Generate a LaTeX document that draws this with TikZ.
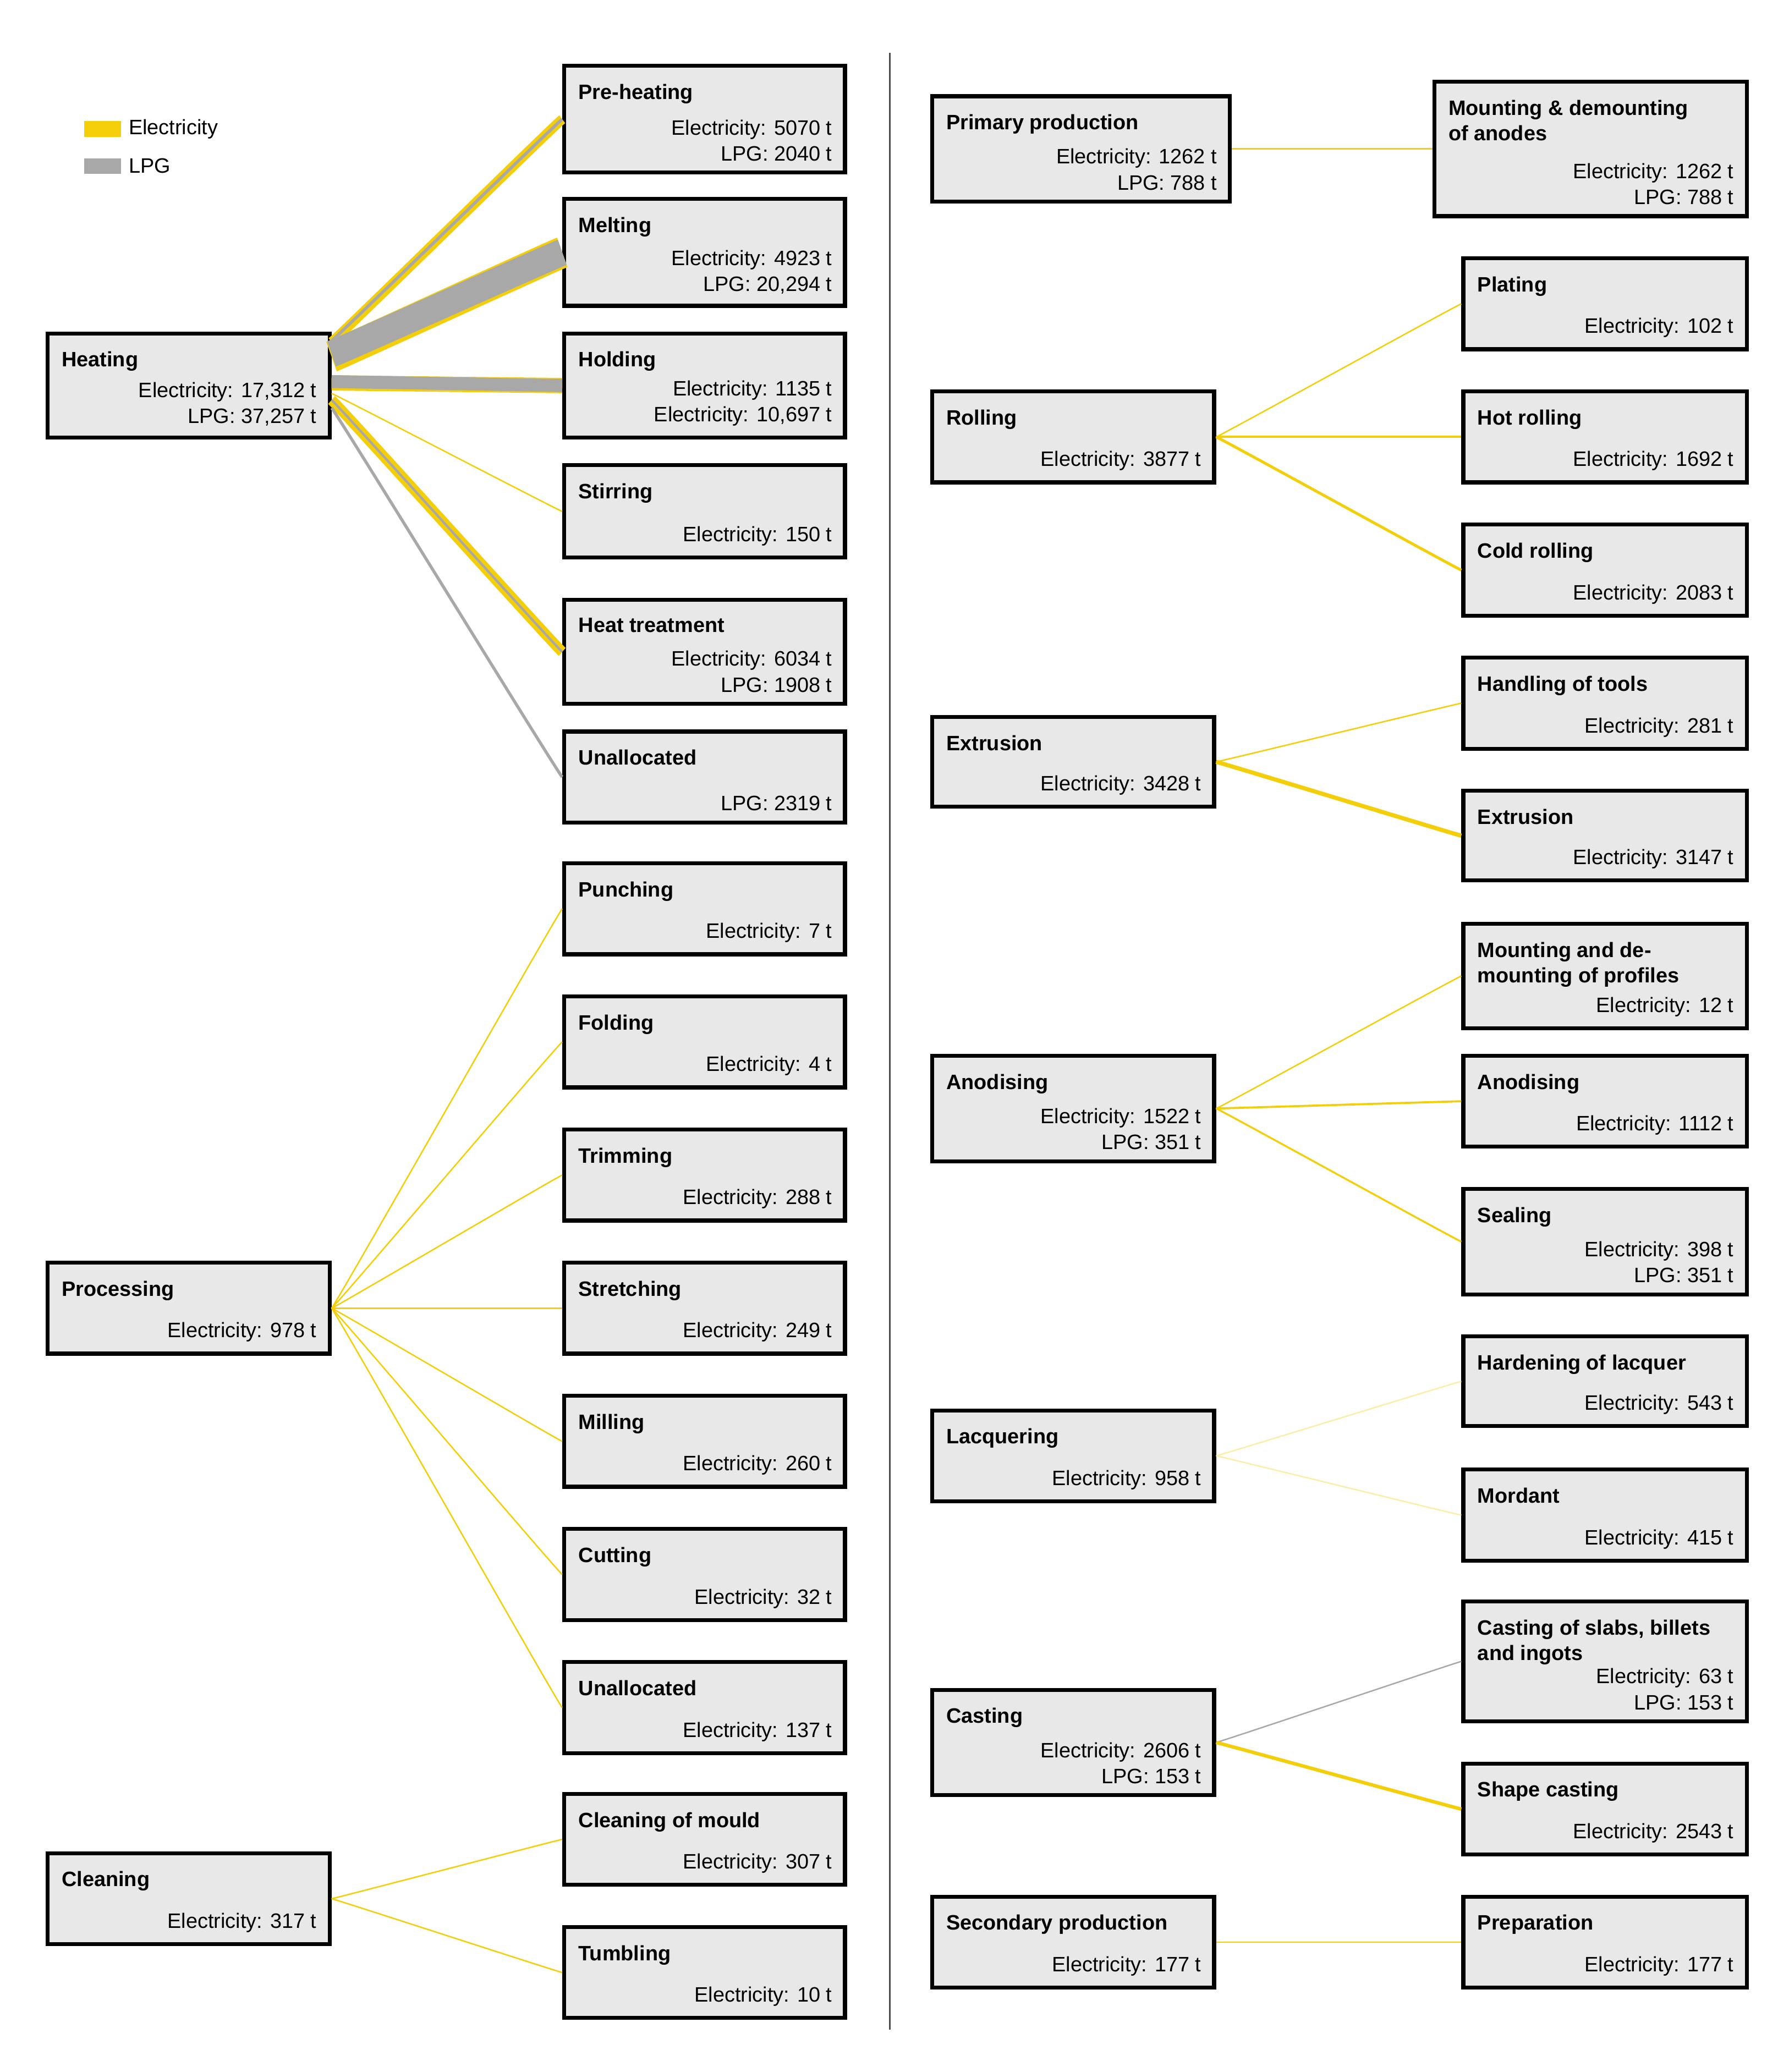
\documentclass[tikz,border=0pt]{standalone}
\usepackage{fontspec}
\setmainfont{Liberation Sans}
\usetikzlibrary{positioning, calc}
\definecolor{elec}{RGB}{245,206,10}
\definecolor{lpg}{RGB}{168,168,168}
\definecolor{boxfill}{RGB}{232,232,232}

\tikzset{
  pbox/.style={draw=black, line width=1.7pt, fill=boxfill, inner sep=0pt},
  ptitle/.style={font=\fontsize{9}{11}\selectfont\bfseries, anchor=north west, inner sep=0pt, align=left},
  pval/.style={font=\fontsize{9}{11.2}\selectfont, anchor=south east, inner sep=0pt, align=right},
  flow/.style={line cap=butt, line width=#1}
}
% box: name, x1, y1, x2, y2, title, values
\newcommand{\pbx}[7]{%
  \node[pbox, minimum width={(#4-#2)*0.02cm}, minimum height={(#5-#3)*0.02cm}] (#1) at ({(#2+#4)/2},{(#3+#5)/2}) {};
  \node[ptitle] (#1-t) at ([xshift=0.24cm, yshift=-0.3cm]#1.north west) {#6};
  \node[pval] (#1-v) at ([xshift=-0.22cm, yshift=0.2cm]#1.south east) {#7};
}
% flow: colour, width (pt), source, start offset (px), target
\newcommand{\fl}[5]{%
  \draw[#1, flow={#2}] ([yshift={-(#4)*0.02cm}]#3.east) .. controls +(1.6,0) and +(-1.6,0) .. (#5.west);
}

\begin{document}
\begin{tikzpicture}[x=0.02cm, y=-0.02cm]
  \useasboundingbox (0,0) rectangle (1357,1572);

  % legend
  \node[fill=elec, minimum width=0.56cm, minimum height=0.24cm, inner sep=0pt] (legel) at (78,98) {};
  \node[fill=lpg, minimum width=0.56cm, minimum height=0.24cm, inner sep=0pt] (leglpg) at (78,126) {};
  \node[right=0.1cm of legel, font=\fontsize{9}{11}\selectfont, inner sep=0pt] (legelt) {Electricity};
  \node[right=0.1cm of leglpg, font=\fontsize{9}{11}\selectfont, inner sep=0pt] (leglpgt) {LPG};

  % divider
  \coordinate (divtop) at (675,40);
  \coordinate (divbot) at (675,1540);
  \draw[line width=0.8pt, black!70] (divtop) -- (divbot);

  % left column
  \pbx{heat}{36}{253}{250}{332}{Heating}{Electricity: 17,312 t\\LPG: 37,257 t}
  \pbx{pre}{428}{50}{641}{131}{Pre-heating}{Electricity: 5070 t\\LPG: 2040 t}
  \pbx{melt}{428}{151}{641}{232}{Melting}{Electricity: 4923 t\\LPG: 20,294 t}
  \pbx{hold}{428}{253}{641}{332}{Holding}{Electricity: 1135 t\\Electricity: 10,697 t}
  \pbx{stir}{428}{353}{641}{423}{Stirring}{Electricity: 150 t}
  \pbx{treat}{428}{455}{641}{534}{Heat treatment}{Electricity: 6034 t\\LPG: 1908 t}
  \pbx{unalh}{428}{555}{641}{624}{Unallocated}{LPG: 2319 t}

  \pbx{proc}{36}{958}{250}{1027}{Processing}{Electricity: 978 t}
  \pbx{punch}{428}{655}{641}{724}{Punching}{Electricity: 7 t}
  \pbx{fold}{428}{756}{641}{825}{Folding}{Electricity: 4 t}
  \pbx{trim}{428}{857}{641}{926}{Trimming}{Electricity: 288 t}
  \pbx{stretch}{428}{958}{641}{1027}{Stretching}{Electricity: 249 t}
  \pbx{mill}{428}{1059}{641}{1128}{Milling}{Electricity: 260 t}
  \pbx{cut}{428}{1160}{641}{1229}{Cutting}{Electricity: 32 t}
  \pbx{unalp}{428}{1261}{641}{1330}{Unallocated}{Electricity: 137 t}

  \pbx{clean}{36}{1406}{250}{1475}{Cleaning}{Electricity: 317 t}
  \pbx{mould}{428}{1361}{641}{1430}{Cleaning of mould}{Electricity: 307 t}
  \pbx{tumb}{428}{1462}{641}{1531}{Tumbling}{Electricity: 10 t}

  % right column
  \pbx{prim}{707}{73}{933}{153}{Primary production}{Electricity: 1262 t\\LPG: 788 t}
  \pbx{anodes}{1088}{62}{1325}{164}{Mounting \& demounting\\of anodes}{Electricity: 1262 t\\LPG: 788 t}
  \pbx{roll}{707}{297}{921}{366}{Rolling}{Electricity: 3877 t}
  \pbx{plat}{1110}{196}{1325}{265}{Plating}{Electricity: 102 t}
  \pbx{hot}{1110}{297}{1325}{366}{Hot rolling}{Electricity: 1692 t}
  \pbx{cold}{1110}{398}{1325}{467}{Cold rolling}{Electricity: 2083 t}
  \pbx{extr}{707}{544}{921}{612}{Extrusion}{Electricity: 3428 t}
  \pbx{tools}{1110}{499}{1325}{568}{Handling of tools}{Electricity: 281 t}
  \pbx{extr2}{1110}{600}{1325}{668}{Extrusion}{Electricity: 3147 t}
  \pbx{anod}{707}{801}{921}{881}{Anodising}{Electricity: 1522 t\\LPG: 351 t}
  \pbx{prof}{1110}{701}{1325}{780}{Mounting and de-\\mounting of profiles}{Electricity: 12 t}
  \pbx{anod2}{1110}{801}{1325}{870}{Anodising}{Electricity: 1112 t}
  \pbx{seal}{1110}{902}{1325}{982}{Sealing}{Electricity: 398 t\\LPG: 351 t}
  \pbx{lacq}{707}{1070}{921}{1139}{Lacquering}{Electricity: 958 t}
  \pbx{hard}{1110}{1014}{1325}{1082}{Hardening of lacquer}{Electricity: 543 t}
  \pbx{mord}{1110}{1115}{1325}{1184}{Mordant}{Electricity: 415 t}
  \pbx{cast}{707}{1282}{921}{1362}{Casting}{Electricity: 2606 t\\LPG: 153 t}
  \pbx{slabs}{1110}{1215}{1325}{1306}{Casting of slabs, billets\\and ingots}{Electricity: 63 t\\LPG: 153 t}
  \pbx{shape}{1110}{1338}{1325}{1407}{Shape casting}{Electricity: 2543 t}
  \pbx{sec}{707}{1439}{921}{1508}{Secondary production}{Electricity: 177 t}
  \pbx{prep}{1110}{1439}{1325}{1508}{Preparation}{Electricity: 177 t}

  % heating flows (drawn under the boxes' edges)
  \begin{scope}[on background layer/.try]
  \end{scope}
  \fl{elec}{4.2pt}{heat}{-33}{pre}
  \fl{lpg}{1.3pt}{heat}{-34}{pre}
  \fl{elec}{13.5pt}{heat}{-22}{melt}
  \fl{lpg}{11.5pt}{heat}{-24}{melt}
  \fl{elec}{6.6pt}{heat}{-2}{hold}
  \fl{lpg}{5.6pt}{heat}{-3}{hold}
  \fl{elec}{0.6pt}{heat}{6}{stir}
  \fl{elec}{4.5pt}{heat}{11}{treat}
  \fl{lpg}{1.0pt}{heat}{11}{treat}
  \fl{lpg}{1.3pt}{heat}{17}{unalh}

  % processing and cleaning flows
  \foreach \t in {punch, fold, trim, stretch, mill, cut, unalp}
    {\fl{elec}{0.6pt}{proc}{0}{\t}}
  \fl{elec}{0.6pt}{clean}{0}{mould}
  \fl{elec}{0.6pt}{clean}{0}{tumb}

  % right side flows
  \fl{elec}{0.8pt}{prim}{0}{anodes}
  \fl{elec}{0.6pt}{roll}{0}{plat}
  \fl{elec}{1.0pt}{roll}{0}{hot}
  \fl{elec}{1.2pt}{roll}{0}{cold}
  \fl{elec}{0.6pt}{extr}{0}{tools}
  \fl{elec}{1.8pt}{extr}{0}{extr2}
  \fl{elec}{0.6pt}{anod}{0}{prof}
  \fl{elec}{0.9pt}{anod}{0}{anod2}
  \fl{elec}{0.8pt}{anod}{0}{seal}
  \fl{elec!35}{0.6pt}{lacq}{0}{hard}
  \fl{elec!35}{0.6pt}{lacq}{0}{mord}
  \fl{lpg}{0.6pt}{cast}{0}{slabs}
  \fl{elec}{1.5pt}{cast}{0}{shape}
  \fl{elec}{0.6pt}{sec}{0}{prep}
\end{tikzpicture}
\end{document}
